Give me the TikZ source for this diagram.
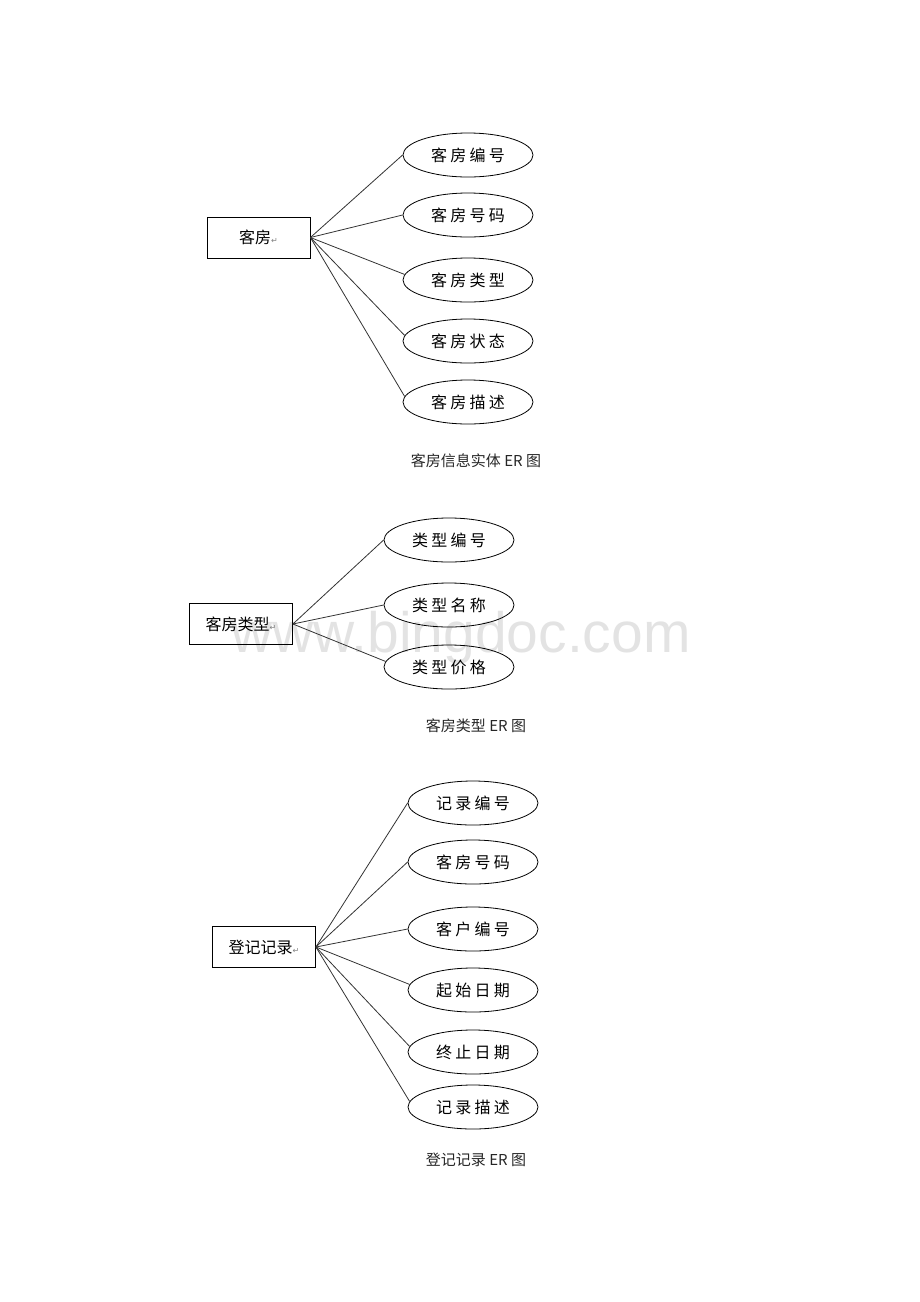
\documentclass[tikz,border=0pt]{standalone}
\usepackage{fontspec}
\usepackage{tikz}
\setmainfont{Liberation Sans}
\newfontfamily\cjk{Noto Sans CJK SC}
\newfontfamily\cjkwide[LetterSpace=20]{Noto Sans CJK SC}
\newfontfamily\symb{DejaVu Sans}
\usetikzlibrary{shapes.geometric}
\usetikzlibrary{positioning}

\newcommand{\parmark}{{\symb\fontsize{8}{8}\selectfont\color{gray}↵}}

\begin{document}
\begin{tikzpicture}[
            x = 1pt, y = -1pt, % pixel grid, y downwards
            semithick
        ]

        \tikzstyle{entity}=[
            draw,
            rectangle,
            line width = 0.8pt,
            minimum width = 103pt,
            minimum height = 41pt,
            inner sep = 0pt,
            font = \cjk\fontsize{16}{16}\selectfont
        ]
        \tikzstyle{attr}=[
            draw,
            ellipse,
            line width = 0.8pt,
            minimum width = 130pt,
            minimum height = 44pt,
            inner sep = 0pt,
            font = \cjkwide\fontsize{16}{16}\selectfont
        ]
        \tikzstyle{link}=[draw = black!80, line width = 0.8pt]
        \tikzstyle{caption}=[font = \cjk\fontsize{15}{15}\selectfont, text = black!85]

        \useasboundingbox (0,0) rectangle (920,1302);

	% watermark
        \node[anchor = base, text = black!11, font = \fontsize{57}{57}\selectfont] (W) at (461,652) {www.bingdoc.com};

	% room entity
        \node[entity] (R) at (258.5,237.5) {客房\parmark};

        \node[attr] (R1) at (468,155) {客房编号};
        \node[attr] (R2) at (468,215) {客房号码};
        \node[attr] (R3) at (468,280) {客房类型};
        \node[attr] (R4) at (468,341) {客房状态};
        \node[attr] (R5) at (468,402) {客房描述};

        \path[link] (R.east) edge (R1.west);
        \path[link] (R.east) edge (R2.west);
        \path[link] (R.east) edge (R3.175);
        \path[link] (R.east) edge (R4.175);
        \path[link] (R.east) edge (R5.175);

        \node[caption] (C1) at (476,461) {客房信息实体 ER 图};

	% room type entity
        \node[entity] (T) at (241,624) {客房类型\parmark};

        \node[attr] (T1) at (449,540) {类型编号};
        \node[attr] (T2) at (449,605) {类型名称};
        \node[attr] (T3) at (449,667) {类型价格};

        \path[link] (T.east) edge (T1.west);
        \path[link] (T.east) edge (T2.west);
        \path[link] (T.east) edge (T3.175);

        \node[caption] (C2) at (476,726) {客房类型 ER 图};

	% check-in record entity
        \node[entity] (G) at (264,947) {登记记录\parmark};

        \node[attr] (G1) at (473,803) {记录编号};
        \node[attr] (G2) at (473,862) {客房号码};
        \node[attr] (G3) at (473,929) {客户编号};
        \node[attr] (G4) at (473,990) {起始日期};
        \node[attr] (G5) at (473,1052) {终止日期};
        \node[attr] (G6) at (473,1107) {记录描述};

        \path[link] (G.east) edge (G1.west);
        \path[link] (G.east) edge (G2.west);
        \path[link] (G.east) edge (G3.west);
        \path[link] (G.east) edge (G4.175);
        \path[link] (G.east) edge (G5.175);
        \path[link] (G.east) edge (G6.175);

        \node[caption] (C3) at (476,1160) {登记记录 ER 图};

\end{tikzpicture}
\end{document}
